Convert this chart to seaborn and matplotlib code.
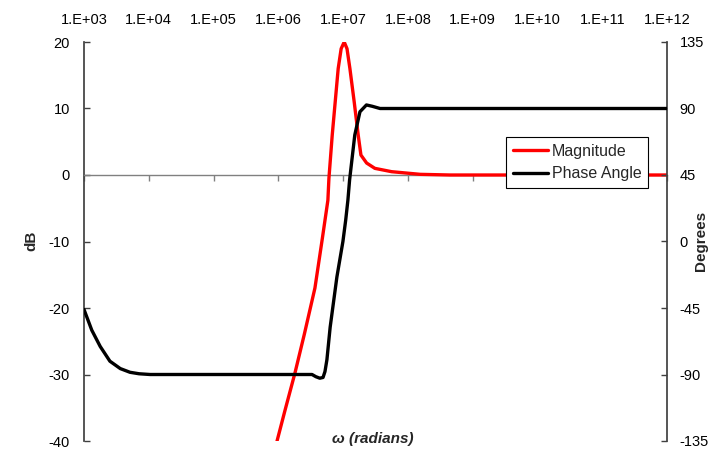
import numpy as np
import pandas as pd
import matplotlib
matplotlib.use("Agg")
import matplotlib.pyplot as plt
import seaborn as sns
from matplotlib.ticker import FixedLocator, FixedFormatter, NullLocator

# ---- data ----
mag_log_omega = [5.98, 6.10, 6.256, 6.40, 6.565, 6.68, 6.765, 6.781, 6.832, 6.924,
                 6.97, 7.017, 7.06, 7.105, 7.171, 7.233, 7.275, 7.363, 7.49, 7.748,
                 8.19, 8.65, 10.0, 12.0]
mag_db = [-40, -35.5, -29.8, -24.0, -17.0, -9.5, -3.8, -0.5, 6.0, 16.0,
          19.0, 20.0, 19.0, 16.0, 11.0, 6.0, 3.0, 1.8, 1.0, 0.5,
          0.1, 0.0, 0.0, 0.0]

phase_log_omega = [3.0, 3.06, 3.12, 3.25, 3.40, 3.56, 3.71, 3.85, 4.02, 6.33,
                   6.52, 6.58, 6.64, 6.69, 6.72, 6.75, 6.80, 6.904, 6.997, 7.04,
                   7.074, 7.10, 7.18, 7.26, 7.36, 7.45, 7.57, 12.0]
phase_deg = [-46, -53, -60, -71, -81, -86, -88.5, -89.5, -90, -90,
             -90, -91.5, -92.5, -92, -88, -80, -58, -24, 0, 14.5,
             28, 41.6, 72, 87.8, 92.4, 91.5, 90, 90]

x_ticks = [1e3, 1e4, 1e5, 1e6, 1e7, 1e8, 1e9, 1e10, 1e11, 1e12]
x_tick_labels = ["1.E+03", "1.E+04", "1.E+05", "1.E+06", "1.E+07",
                 "1.E+08", "1.E+09", "1.E+10", "1.E+11", "1.E+12"]
db_ticks = [-40, -30, -20, -10, 0, 10, 20]
deg_ticks = [-135, -90, -45, 0, 45, 90, 135]

mag_df = pd.DataFrame({"omega": np.power(10.0, mag_log_omega), "dB": mag_db})
phase_df = pd.DataFrame({"omega": np.power(10.0, phase_log_omega), "deg": phase_deg})

# ---- plotting ----
sns.set_theme(style="white")
plt.rcParams["font.family"] = ["Liberation Sans", "DejaVu Sans"]
plt.rcParams["axes.unicode_minus"] = False

fig = plt.figure(figsize=(7.28, 4.5), dpi=100)
ax = fig.add_axes([84 / 728, 1 - 441 / 450, (667 - 84) / 728, (441 - 42) / 450])
ax2 = ax.twinx()

axis_col = "#808080"
spine_col = "#404040"

sns.lineplot(data=mag_df, x="omega", y="dB", ax=ax, color="#FF0000",
             linewidth=2.4, legend=False, sort=False, zorder=3)
sns.lineplot(data=phase_df, x="omega", y="deg", ax=ax2, color="#000000",
             linewidth=2.4, legend=False, sort=False, zorder=3)

for a in (ax, ax2):
    a.set_xscale("log")
    a.set_xlim(1e3, 1e12)
    a.set_facecolor("none")
    for s in a.spines.values():
        s.set_visible(False)
        s.set_zorder(1)

ax.set_ylim(-40, 20)
ax2.set_ylim(-135, 135)

# x axis crossing at 0 dB, labels on top
ax.spines["bottom"].set_visible(True)
ax.spines["bottom"].set_position(("data", 0))
ax.spines["bottom"].set_color(axis_col)
ax.spines["bottom"].set_linewidth(1.0)
ax.xaxis.set_major_locator(FixedLocator(x_ticks))
ax.xaxis.set_major_formatter(FixedFormatter(x_tick_labels))
ax.xaxis.set_minor_locator(NullLocator())
ax.tick_params(axis="x", which="major", bottom=True, top=False, labelbottom=False,
               labeltop=True, direction="out", length=4, width=1, color=axis_col,
               labelsize=10.5, labelcolor="black", pad=7)
ax2.xaxis.set_minor_locator(NullLocator())
ax2.tick_params(axis="x", bottom=False, top=False, labelbottom=False, labeltop=False)

ax.spines["left"].set_visible(True)
ax.spines["left"].set_color(spine_col)
ax.set_yticks(db_ticks)
ax.tick_params(axis="y", left=True, direction="in", length=4, width=1, color=spine_col,
               labelsize=10.5, labelcolor="black", pad=10)

ax2.spines["right"].set_visible(True)
ax2.spines["right"].set_color(spine_col)
ax2.set_yticks(deg_ticks)
ax2.tick_params(axis="y", right=True, direction="in", length=4, width=1, color=spine_col,
                labelsize=10.5, labelcolor="black", pad=9)

ax.set_xlabel("")
ax2.set_xlabel("")
ax.set_ylabel("")
ax2.set_ylabel("")
ax.grid(False)
ax2.grid(False)

fig.text(31 / 728, 1 - 241 / 450, "dB", rotation=90, ha="center", va="center",
         fontsize=11, fontweight="bold")
fig.text(701 / 728, 1 - 241 / 450, "Degrees", rotation=90, ha="center", va="center",
         fontsize=11, fontweight="bold")
fig.text(373 / 728, 1 - 439 / 450, "ω (radians)", ha="center", va="center",
         fontsize=11, fontweight="bold", fontstyle="italic")

handles = [ax.lines[0], ax2.lines[0]]
leg = fig.legend(handles, ["Magnitude", "Phase Angle"], loc="center",
                 bbox_to_anchor=(577 / 728, 1 - 162.5 / 450), frameon=True,
                 fancybox=False, framealpha=1, edgecolor="black", fontsize=11.5,
                 handlelength=2.2, handletextpad=0.25, borderpad=0.4,
                 labelspacing=0.5, borderaxespad=0)
leg.get_frame().set_linewidth(0.8)

fig.savefig("out.png", dpi=100)
